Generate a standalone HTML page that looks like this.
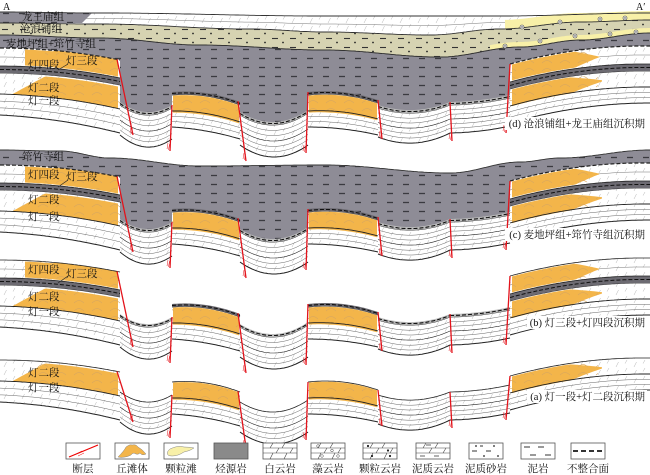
<!DOCTYPE html>
<html><head><meta charset="utf-8"><style>
html,body{margin:0;padding:0;background:#fff;}
svg{display:block;font-family:"Liberation Serif","Noto Serif CJK SC",serif;}
</style></head><body>
<svg id="s" width="650" height="475" viewBox="0 0 650 475" xmlns="http://www.w3.org/2000/svg">
<defs>
<pattern id="brick" width="18" height="8" patternUnits="userSpaceOnUse"><path d="M4 7L6.5 2M13 3.5L15 0" stroke="#b5b5b5" stroke-width="0.5"/></pattern>
<pattern id="mud" width="16" height="9" patternUnits="userSpaceOnUse"><path d="M3 4.5h6" stroke="#3a3a40" stroke-width="1.3"/></pattern>
<pattern id="sand" width="18" height="9" patternUnits="userSpaceOnUse"><path d="M2 2.5h6" stroke="#333" stroke-width="1.1"/><circle cx="13" cy="6.5" r="0.9" fill="#222"/></pattern>
<pattern id="ora" width="18" height="8" patternUnits="userSpaceOnUse"><path d="M2 7q5-5 10 0" stroke="#d9a75e" fill="none" stroke-width="0.6"/></pattern>
</defs>
<g id="geo"></g>
<g fill="#fff">
<rect x="505" y="117" width="142" height="13"/>
<rect x="505" y="228" width="142" height="13"/>
<rect x="527" y="316" width="120" height="13"/>
<rect x="527" y="390" width="120" height="13"/>
</g>
<g font-size="10.5" fill="#111">
<text x="3" y="10" font-size="10">A</text>
<text x="636" y="10" font-size="10">A′</text>
<text x="22" y="20">龙王庙组</text>
<text x="20" y="32">沧浪铺组</text>
<text x="6" y="47">麦地坪组+筇竹寺组</text>
<text x="28" y="68">灯四段</text>
<text x="66" y="64">灯三段</text>
<text x="28" y="91">灯二段</text>
<text x="28" y="104">灯一段</text>
<text x="645" y="127" text-anchor="end">(d) 沧浪铺组+龙王庙组沉积期</text>
<text x="22" y="160">筇竹寺组</text>
<text x="28" y="178">灯四段</text>
<text x="66" y="180">灯三段</text>
<text x="28" y="203">灯二段</text>
<text x="28" y="220">灯一段</text>
<text x="645" y="238" text-anchor="end">(c) 麦地坪组+筇竹寺组沉积期</text>
<text x="28" y="273">灯四段</text>
<text x="66" y="277">灯三段</text>
<text x="28" y="300">灯二段</text>
<text x="28" y="315">灯一段</text>
<text x="645" y="326" text-anchor="end">(b) 灯三段+灯四段沉积期</text>
<text x="28" y="376">灯二段</text>
<text x="28" y="391">灯一段</text>
<text x="645" y="400" text-anchor="end">(a) 灯一段+灯二段沉积期</text>
</g>
<g stroke="#222" stroke-width="0.6">
<line x1="58" y1="283" x2="68" y2="276"/><line x1="58" y1="187" x2="68" y2="180"/><line x1="58" y1="70" x2="68" y2="64"/>
</g>
<g stroke="#555" stroke-width="0.8">
<rect x="66" y="443" width="34" height="16" fill="#fff"/>
<rect x="115" y="443" width="34" height="16" fill="#fff"/>
<rect x="164" y="443" width="34" height="16" fill="#fff"/>
<rect x="214" y="443" width="34" height="16" fill="#8a8a8a"/>
<rect x="263" y="443" width="34" height="16" fill="#fff"/>
<rect x="311" y="443" width="34" height="16" fill="#fff"/>
<rect x="363" y="443" width="34" height="16" fill="#fff"/>
<rect x="416" y="443" width="34" height="16" fill="#fff"/>
<rect x="469" y="443" width="34" height="16" fill="#fff"/>
<rect x="521" y="443" width="34" height="16" fill="#fff"/>
<rect x="571" y="443" width="34" height="16" fill="#fff"/>
</g>
<path d="M69 457L98 445" stroke="#e00" stroke-width="1.2"/>
<path d="M76 454l6-3M78 456l6-3" stroke="#e00" stroke-width="0.5"/>
<path d="M118 457q6-6 8-10q4-3 6-2q4-1 6 2q4 2 8 7q-4 2-6-1q-2 2-4 1q-3-2-5 1q-4 2-6 2q-4 1-7 0z" fill="#f3b54a" stroke="#888" stroke-width="0.5"/>
<path d="M168 455q-2-3 2-6q8-4 14-2q6 0 10 1q-4 3-10 4q-6 4-12 4q-3 0-4-1z" fill="#f8f0a8" stroke="#888" stroke-width="0.5"/>
<g stroke="#444" stroke-width="0.6">
<path d="M263 448h34M263 453h34M270 448l3-5M282 448l3-5M276 453l3-5M290 453l3-5M270 459l3-6M284 459l3-6"/>
<path d="M311 448h34M311 453h34M318 448l3-5M330 448l3-5M324 453l3-5M338 453l3-5M318 459l3-6M332 459l3-6"/>
<path d="M363 448h34M363 453h34M370 448l3-5M382 448l3-5M376 453l3-5M390 453l3-5M370 459l3-6M384 459l3-6"/>
<path d="M416 448h34M416 453h34M423 448l3-5M435 448l3-5M429 453l3-5M443 453l3-5"/>
</g>
<g fill="none" stroke="#444" stroke-width="0.5"><circle cx="318" cy="446" r="1.3"/><circle cx="332" cy="450.5" r="1.3"/><circle cx="322" cy="456" r="1.3"/><circle cx="338" cy="456" r="1.3"/></g>
<g fill="#222"><circle cx="368" cy="446" r="1.1"/><circle cx="388" cy="450.5" r="1.1"/><circle cx="372" cy="456" r="1.1"/><circle cx="390" cy="456" r="1.1"/>
<circle cx="476" cy="446" r="0.9"/><circle cx="494" cy="446" r="0.9"/><circle cx="484" cy="456" r="0.9"/><circle cx="498" cy="456" r="0.9"/></g>
<path d="M420 456h5M434 456h5M426 445h5" stroke="#333" stroke-width="0.8"/>
<path d="M472 451h5M486 451h5M480 446h3" stroke="#333" stroke-width="1"/>
<path d="M524 447h6M538 447h6M530 455h6M545 455h6" stroke="#333" stroke-width="1.1"/>
<path d="M573 451h32" stroke="#333" stroke-width="2" stroke-dasharray="5,3"/>
<g font-size="10.5" fill="#111" text-anchor="middle">
<text x="83" y="472">断层</text><text x="132" y="472">丘滩体</text><text x="181" y="472">颗粒滩</text><text x="231" y="472">烃源岩</text><text x="280" y="472">白云岩</text><text x="328" y="472">藻云岩</text><text x="380" y="472">颗粒云岩</text><text x="433" y="472">泥质云岩</text><text x="486" y="472">泥质砂岩</text><text x="538" y="472">泥岩</text><text x="588" y="472">不整合面</text>
</g>
</svg>
<script>
(function(){
function q(a,u){var m=2*a[1]-(a[0]+a[2])/2;return (1-u)*(1-u)*a[0]+2*u*(1-u)*m+u*u*a[2];}
function ci(P,x){for(var i=0;i<P.length-1;i++){if(x<=P[i+1][0]){var u=(x-P[i][0])/(P[i+1][0]-P[i][0]);var v=(1-Math.cos(u*Math.PI))/2;return P[i][1]+(P[i+1][1]-P[i][1])*v;}}return P[P.length-1][1];}
var S=[
{x0:0,x1:120,t:[360,363,372],b:[402,408,420],k:'L'},
{x0:120,x1:172,t:[392,402,395],b:[422,434,426],k:'B'},
{x0:172,x1:240,t:[382,383,392],b:[414,418,426],k:'H'},
{x0:240,x1:308,t:[402,412,400],b:[432,444,432],k:'B'},
{x0:308,x1:378,t:[382,382,390],b:[414,416,422],k:'H'},
{x0:378,x1:450,t:[395,400,392],b:[424,430,420],k:'B'},
{x0:450,x1:510,t:[392,390,385],b:[420,418,413],k:'B'},
{x0:510,x1:650,t:[376,362,358],b:[410,395,390],k:'R'}];
function Y(s,x,f){var u=(x-s.x0)/(s.x1-s.x0);var T=q(s.t,u),B=q(s.b,u);return f<0?T+f:T+(B-T)*f;}
function xs(a,b){var n=Math.max(2,Math.ceil((b-a)/2)),r=[];for(var i=0;i<=n;i++)r.push(a+(b-a)*i/n);return r;}
function pt(p){return p[0].toFixed(1)+','+p[1].toFixed(1);}
function reg(a,b,ft,fb,fill,ex){var X=xs(a,b),A=[],B=[];X.forEach(function(x){A.push([x,ft(x)]);B.push([x,fb(x)]);});return '<polygon points="'+A.concat(B.reverse()).map(pt).join(' ')+'" fill="'+fill+'" '+(ex||'')+'/>';}
function ln(a,b,f,st,w,da){var X=xs(a,b);return '<polyline points="'+X.map(function(x){return pt([x,f(x)]);}).join(' ')+'" fill="none" stroke="'+st+'" stroke-width="'+w+'"'+(da?' stroke-dasharray="'+da+'"':'')+'/>';}
var o='';
var panels=[{dy:0,p:'a'},{dy:-75,p:'b'},{dy:-170,p:'c'},{dy:-287,p:'d'}];
var GC=[[0,150],[60,151],[110,158],[200,166],[325,165],[450,173],[520,162],[560,158],[650,150]];
var GD=[[0,35],[100,38],[200,45],[325,50],[440,57],[520,47],[580,40],[650,33]];
var CD=[[0,23],[100,24],[250,29],[325,32],[430,35],[500,29],[580,22],[650,20]];
var WD=[[0,12],[100,13],[325,16],[500,16],[650,13]];
panels.forEach(function(P){
 var dy=P.dy,ext=P.p!=='a';
 if(P.p==='c'||P.p==='d'){
  var G=P.p==='c'?GC:GD;
  S.forEach(function(s){o+=reg(s.x0,s.x1+0.6,function(x){return ci(G,x);},function(x){return Y(s,Math.min(x,s.x1),0.3)+dy;},'#8e8c96');
   o+=reg(s.x0,s.x1+0.6,function(x){return ci(G,x);},function(x){return Y(s,Math.min(x,s.x1),0.3)+dy;},'url(#mud)');});
  o+=ln(0,650,function(x){return ci(G,x);},'#333',0.9);
 }
 if(P.p==='d'){
  var Cf=function(x){return ci(CD,x);},Wf=function(x){return ci(WD,x);},Gf=function(x){return ci(GD,x);};
  o+=reg(0,650,Wf,Cf,'#fff');o+=reg(0,650,Wf,Cf,'url(#brick)');
  o+=ln(0,650,function(x){return (Wf(x)+Cf(x))/2;},'#777',0.5);
  o+='<polygon points="0,12 92,13 82,23 0,23" fill="#8e8c96"/><polygon points="0,12 92,13 82,23 0,23" fill="url(#mud)"/>';
  o+=reg(505,650,function(x){return Cf(x)-9;},Cf,'#f8f0a8');
  o+=reg(0,650,Cf,Gf,'#d6d3b2');o+=reg(0,650,Cf,Gf,'url(#sand)');
  o+=reg(490,650,function(x){return Gf(x)-5;},Gf,'#f8f0a8');
  o+=ln(0,650,Wf,'#333',0.9);o+=ln(0,650,Cf,'#333',0.9);o+=ln(0,650,Gf,'#333',0.9);
  [[522,27],[560,22],[600,19],[625,18],[540,41],[575,36],[610,34],[636,32],[505,46]].forEach(function(c){o+='<circle cx="'+c[0]+'" cy="'+(c[1])+'" r="2" fill="#fff" stroke="#333" stroke-width="0.6"/><circle cx="'+c[0]+'" cy="'+c[1]+'" r="0.7" fill="#333"/>';});
 }
 S.forEach(function(s){
  var f=function(fr){return function(x){return Y(s,x,fr)+dy;};};
  o+=reg(s.x0,s.x1,f(0),f(1),'#fff');o+=reg(s.x0,s.x1,f(0),f(1),'url(#brick)');
  if(s.k==='B'){[0.17,0.33].forEach(function(fr){o+=ln(s.x0,s.x1,f(fr),'#666',0.5);});}
  [0.67,0.83].forEach(function(fr){o+=ln(s.x0,s.x1,f(fr),'#666',0.5);});
  if(s.k==='L'){o+=reg(12,118,function(x){var fr=Math.max(0.04,0.5-(x-12)/33*0.46);return Y(s,x,fr)+dy;},f(0.5),'#f3b54a');}
  if(s.k==='H'){o+=reg(s.x0+1,s.x1-1,f(0.02),f(0.55),'#f3b54a');}
  if(s.k==='R'){o+=reg(512,602,function(x){var fr=x<570?0.03:0.03+(x-570)/32*0.2;return Y(s,x,fr)+dy;},function(x){var fr=x<570?0.52:0.52-(x-570)/32*0.25;return Y(s,x,fr)+dy;},'#f3b54a');}
  if(s.k!=='B'){var xa=s.k==='L'?30:s.x0,xb=s.k==='R'?598:s.x1;o+=reg(xa,xb,f(0.06),f(0.48),'url(#ora)');}
  o+=ln(s.x0,s.x1,f(0.5),'#222',s.k==='B'?0.6:0.9);
  o+=ln(s.x0,s.x1,f(0),'#222',0.8);o+=ln(s.x0,s.x1,f(1),'#222',1);
  if(ext){
   if(s.k==='L'||s.k==='R'){
    o+=reg(s.x0,s.x1,f(-25),f(-7),'#fff');o+=reg(s.x0,s.x1,f(-25),f(-7),'url(#brick)');
    o+=ln(s.x0,s.x1,f(-16),'#777',0.5);
    if(s.k==='L'){o+=reg(25,118,function(x){return Y(s,x,Math.min(-25+18*(1-Math.min(1,(x-25)/30)),-24))+dy;},f(-8),'#f3b54a');o+=reg(45,118,f(-23),f(-9),'url(#ora)');}
    else {o+=reg(512,600,function(x){return Y(s,x,x<575?-24:-24+(x-575)/25*8)+dy;},function(x){return Y(s,x,x<575?-8:-8-(x-575)/25*8)+dy;},'#f3b54a');o+=reg(512,590,f(-23),f(-9),'url(#ora)');}
    o+=reg(s.x0,s.x1,f(-7),f(0),'#6d6b72');
    o+=ln(s.x0,s.x1,f(-3.5),'#111',1,'4,2');
    o+=ln(s.x0,s.x1,f(-7),'#222',0.8);
    o+=ln(s.x0,s.x1,f(-25),'#222',(P.p==='b')?0.8:1.2,(P.p==='b')?'':'4,2');
   } else {
    o+=reg(s.x0,s.x1,f(-3),f(0),s.k==='H'?'#6d6b72':'#bbb');
    o+=ln(s.x0,s.x1,f(-1.5),'#111',1.1,'4,2');
   }
  }
 });
 var top=ext?-25:0;
 var F=[[0,117,133,422],[1,172,170,438],[2,238,246,448],[4,308,306,440],[4,378,382,426],[6,450,452,428],[7,510,506,420]];
 F.forEach(function(fl){var s=S[fl[0]];var xt=fl[1];var sy=(fl[0]===0||fl[0]===7)?Y(s,Math.min(Math.max(xt,s.x0),s.x1),top):Y(s,Math.min(Math.max(xt,s.x0),s.x1),ext?-3:0);
  var y1=sy+dy,y2=fl[3]+dy;
  o+='<line x1="'+xt+'" y1="'+y1.toFixed(1)+'" x2="'+fl[2]+'" y2="'+y2+'" stroke="#e3131b" stroke-width="1.3"/>';
  o+='<path d="M'+(fl[2]-3)+' '+(y2-2)+'l1 -6M'+(fl[2]-1.5)+' '+(y2-1)+'l1 -6" stroke="#e3131b" stroke-width="0.5"/>';});
});
document.getElementById('geo').innerHTML=o;
})();
</script>
</body></html>
